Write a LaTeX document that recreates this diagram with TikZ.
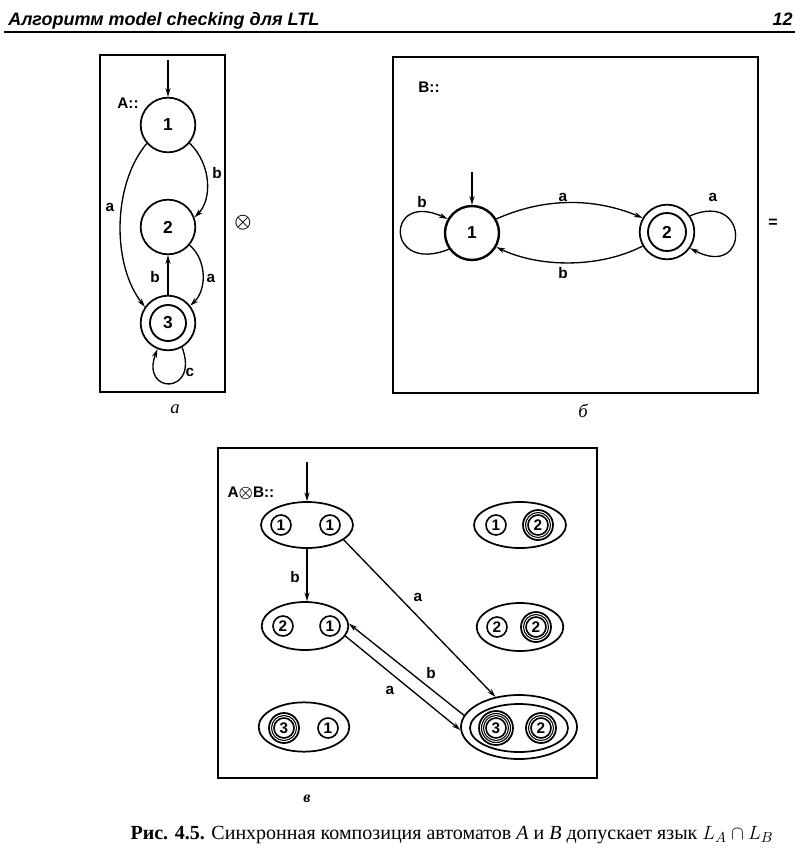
\documentclass[tikz,border=0pt]{standalone}
\usepackage{amsmath}
\usepackage{fontspec}
\setmainfont{Liberation Sans}
\newfontfamily\serf{Liberation Serif}
\usetikzlibrary{arrows.meta,shapes.geometric}
\begin{document}
\begin{tikzpicture}[x=0.75pt,y=-0.75pt,
  >={Stealth[length=6.5pt,width=3.8pt]},
  box/.style={draw,line width=1.2pt},
  edge/.style={->,line width=1pt},
  lbl/.style={font=\fontsize{11.5}{13}\selectfont\bfseries,inner sep=0},
  stbig/.style={circle,draw,line width=1.3pt,minimum size=41pt,inner sep=0,font=\fontsize{13}{15}\selectfont\bfseries},
  ring/.style={circle,draw,line width=0.9pt,inner sep=0,minimum size=#1},
  sm/.style={circle,draw,line width=1.2pt,minimum size=15pt,inner sep=0,font=\fontsize{11.5}{13}\selectfont\bfseries},
  pair/.style={ellipse,draw,line width=1.3pt,inner sep=0},
  sub/.style={font=\serf\itshape\fontsize{14}{16}\selectfont,inner sep=0}
]
\useasboundingbox (0,0) rectangle (795,858);
\fill[white] (0,0) rectangle (795,858);

% header
\node[anchor=base west,font=\fontsize{13.5}{16}\selectfont\bfseries\itshape,inner sep=0] (hdr) at (8,25) {Алгоритм model checking для LTL};
\node[anchor=base east,font=\fontsize{13.5}{16}\selectfont\bfseries\itshape,inner sep=0] (pg) at (793,25) {12};
\coordinate (hl) at (4,32);
\coordinate (hr) at (797,32);
\draw[line width=1.8pt] (hl) -- (hr);

% ---------- A ----------
\draw[box] (100,55) rectangle (225,392);
\node[font=\fontsize{11.5}{13}\selectfont\bfseries,inner sep=0] (Alab) at (128,103) {A::};
\node[stbig] (A1) at (168,125) {1};
\node[stbig] (A2) at (168,227) {2};
\node[stbig] (A3) at (168,323) {3};
\node[ring=27pt,line width=1.4pt] (A3i) at (168,323) {};
\coordinate (A0) at (168,60);
\draw[edge] (A0) -- (A1);
\draw[edge] (A1.221) .. controls (112,185) and (112,265) .. (A3.145);
\draw[edge] (A1.-40) .. controls (212,165) and (212,200) .. (A2.20);
\draw[edge] (A2.-40) .. controls (207,260) and (207,290) .. (A3.38);
\draw[->,line width=1.8pt] (A3.north) -- (A2.south);
\draw[edge] (A3.-60) .. controls (200,395) and (140,395) .. (A3.-112);
\node[lbl] (la1) at (110,207) {a};
\node[lbl] (lb1) at (217,173) {b};
\node[lbl] (la2) at (211,278) {a};
\node[lbl] (lb2) at (155,277) {b};
\node[lbl] (lc) at (190,372) {c};
\node[inner sep=0,font=\fontsize{14}{16}\selectfont] (otimes) at (243,223) {$\boldsymbol{\otimes}$};
\node[sub] (suba) at (175,409) {а};

% ---------- B ----------
\draw[box] (393,57) rectangle (758,393);
\node[font=\fontsize{11.5}{13}\selectfont\bfseries,inner sep=0] (Blab) at (429,87) {B::};
\node[stbig,minimum size=40.5pt,line width=1.8pt] (B1) at (472,233) {1};
\node[stbig] (B2) at (667,232) {2};
\node[ring=28.5pt,line width=1.4pt] (B2i) at (667,232) {};
\coordinate (B0) at (472,172);
\draw[edge] (B0) -- (B1);
\draw[edge] (B1.30) .. controls (550,195) and (600,200) .. (B2.150);
\draw[edge] (B2.-150) .. controls (600,268) and (540,268) .. (B1.-30);
\draw[edge] (B1.-145) .. controls (385,275) and (385,190) .. (B1.150);
\draw[edge] (B2.35) .. controls (750,190) and (750,280) .. (B2.-35);
\node[lbl] (lba) at (563,197) {a};
\node[lbl] (lbb) at (563,273) {b};
\node[lbl] (lbb2) at (422,202) {b};
\node[lbl] (lba2) at (713,197) {a};
\node[inner sep=0,font=\fontsize{12}{14}\selectfont\bfseries] (eq) at (773,223) {=};
\node[sub] (subb) at (583,411) {б};

% ---------- A x B ----------
\draw[box] (218,448) rectangle (597,778);
\node[font=\fontsize{11.5}{13}\selectfont\bfseries,inner sep=0] (ABlab) at (251,493) {A$\boldsymbol{\otimes}$B::};

\node[pair,minimum width=69pt,minimum height=34.5pt] (E11) at (307,525) {};
\node[sm] (E11a) at (281,525) {1};
\node[sm] (E11b) at (330,525) {1};

\node[pair,minimum width=69pt,minimum height=34.5pt] (E12) at (520,525) {};
\node[sm] (E12a) at (496,525) {1};
\node[sm] (E12b) at (538,525) {2};
\node[ring=18.75pt,line width=0.8pt] at (538,525) {};
\node[ring=22.5pt,line width=1.3pt] at (538,525) {};

\node[pair,minimum width=65pt,minimum height=36pt] (E21) at (305,626) {};
\node[sm] (E21a) at (283,626) {2};
\node[sm] (E21b) at (330,626) {1};

\node[pair,minimum width=65pt,minimum height=36pt] (E22) at (520,627) {};
\node[sm] (E22a) at (497,627) {2};
\node[sm] (E22b) at (536,627) {2};
\node[ring=18.75pt,line width=0.8pt] at (536,627) {};
\node[ring=22.5pt,line width=1.3pt] at (536,627) {};

\node[pair,minimum width=68pt,minimum height=37pt] (E31) at (304,727) {};
\node[sm] (E31a) at (284,728) {3};
\node[sm] (E31b) at (328,728) {1};
\node[ring=18.75pt,line width=0.8pt] at (284,728) {};
\node[ring=22.5pt,line width=1.3pt] at (284,728) {};

\node[pair,minimum width=87pt,minimum height=48pt] (E32) at (519,727) {};
\node[pair,minimum width=73.5pt,minimum height=36pt] (E32i) at (519,728) {};
\node[sm] (E32a) at (496,728) {3};
\node[ring=18.75pt,line width=0.8pt] at (496,728) {};
\node[ring=21.75pt,line width=0.8pt] at (496,728) {};
\node[ring=25.5pt,line width=1.3pt] at (496,728) {};
\node[sm] (E32b) at (541,728) {2};
\node[ring=18.75pt,line width=0.8pt] at (541,728) {};
\node[ring=22.5pt,line width=1.3pt] at (541,728) {};

\coordinate (C0) at (307,462);
\draw[edge] (C0) -- (E11.north);
\draw[edge] (E11.south) -- (E11.south |- E21.north);
\draw[edge] (E11.-22) -- (E32.128);
\draw[edge] (E32.168) -- (E21.3);
\draw[edge] (E21.-14) -- (E32.183);
\node[lbl] (lcb) at (295,577) {b};
\node[lbl] (lca) at (418,597) {a};
\node[lbl] (lcb2) at (431,673) {b};
\node[lbl] (lca2) at (390,690) {a};
\node[sub,font=\serf\itshape\bfseries\fontsize{12}{14}\selectfont] (subc) at (307,799) {в};

% caption
\node[font=\serf\fontsize{15}{18}\selectfont,inner sep=0] (cap) at (452,835) {\textbf{Рис. 4.5.} Синхронная композиция автоматов \textit{A} и \textit{B} допускает язык $L_A\cap L_B$};
\end{tikzpicture}
\end{document}
